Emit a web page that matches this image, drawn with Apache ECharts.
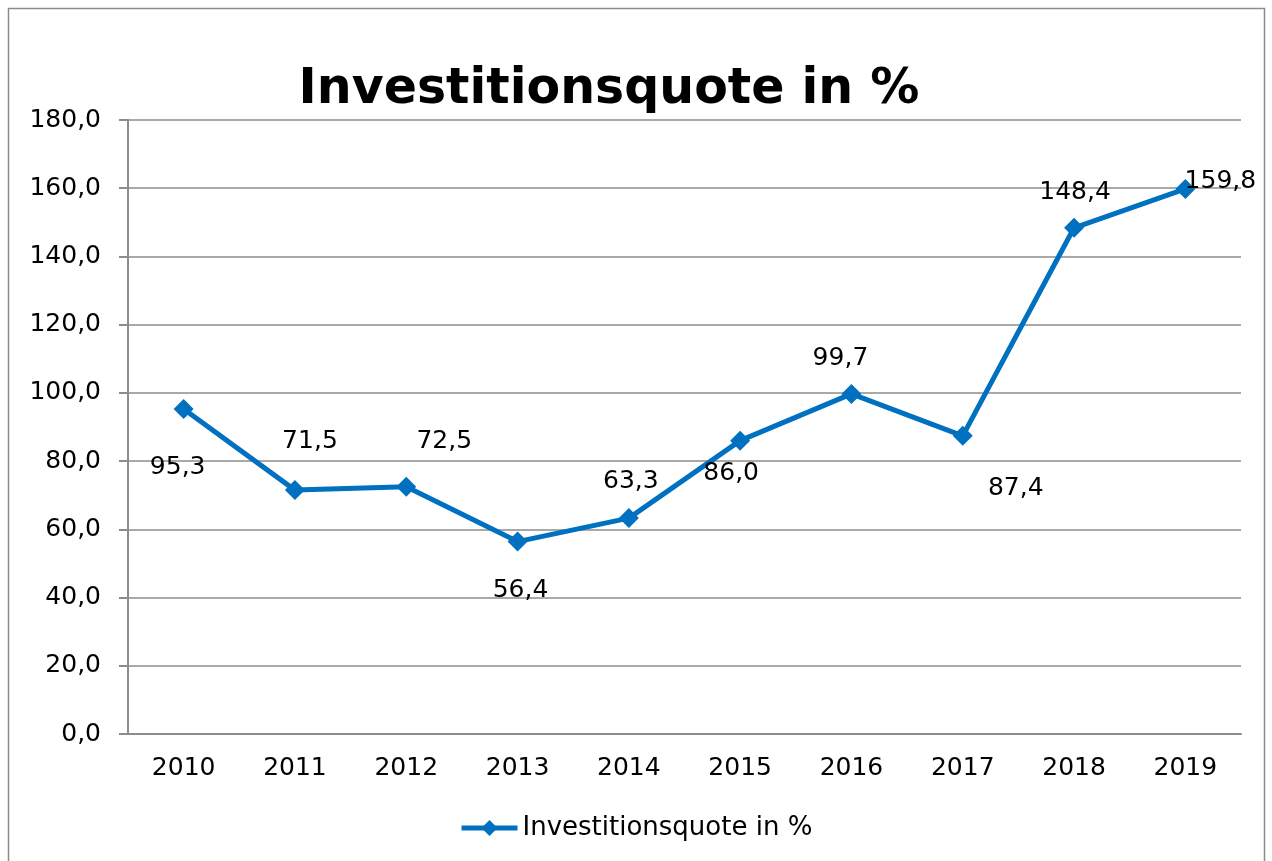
<!DOCTYPE html>
<html>
<head>
<meta charset="utf-8">
<title>Investitionsquote</title>
<script src="https://cdn.jsdelivr.net/npm/echarts@6/dist/echarts.min.js"></script>
<style>
  body { margin: 0; background: #fff; }
  #main { width: 1272px; height: 861px; }
</style>
</head>
<body>
<div id="main"></div>
<script>
var years = ['2010', '2011', '2012', '2013', '2014', '2015', '2016', '2017', '2018', '2019'];
var quote = [95.3, 71.5, 72.5, 56.4, 63.3, 86.0, 99.7, 87.4, 148.4, 159.8];
var seriesName = 'Investitionsquote in %';

// where each data label sits, relative to its point (px)
var labelShift = [[-6, 59], [15, -49], [38, -45], [3, 49], [2, -37],
                  [-9, 33], [-11, -35], [53, 53], [1, -35], [35, -7]];

var fmt = function (v) { return v.toFixed(1).replace('.', ','); };
var font = 'DejaVu Sans, Verdana, sans-serif';

var pts = quote.map(function (v, i) {
    return {
        value: v,
        label: { offset: labelShift[i] }
    };
});

var myChart = echarts.init(document.getElementById('main'));
myChart.setOption({
    animation: false,
    textStyle: { fontFamily: font },
    graphic: [{
        type: 'rect',
        shape: { x: 8.5, y: 8.5, width: 1256, height: 900 },
        style: { fill: 'none', stroke: '#8c8c8c', lineWidth: 1.5 },
        silent: true
    }],
    title: {
        text: seriesName,
        left: 604,
        textAlign: 'center',
        top: 61,
        textStyle: { fontSize: 49, fontWeight: 'bold', color: '#000', fontFamily: font }
    },
    grid: { left: 128, right: 31, top: 120, bottom: 127 },
    legend: {
        data: [seriesName],
        left: 454,
        top: 810,
        itemWidth: 56,
        itemHeight: 20,
        lineStyle: { width: 5 },
        textStyle: { fontSize: 26, color: '#000', fontFamily: font }
    },
    xAxis: {
        type: 'category',
        data: years,
        boundaryGap: true,
        axisLine: { lineStyle: { color: '#8c8c8c', width: 2 } },
        axisTick: { length: 8, lineStyle: { color: '#8c8c8c', width: 2 } },
        axisLabel: { fontSize: 25, color: '#000', margin: 22, fontFamily: font }
    },
    yAxis: {
        type: 'value',
        min: 0,
        max: 180,
        interval: 20,
        axisLine: { show: true, lineStyle: { color: '#8c8c8c', width: 2 } },
        axisTick: { show: true, length: 9, lineStyle: { color: '#8c8c8c', width: 2 } },
        splitLine: { lineStyle: { color: '#8c8c8c', width: 1.5 } },
        axisLabel: { fontSize: 25, color: '#000', margin: 27, formatter: fmt, fontFamily: font }
    },
    series: [{
        name: seriesName,
        type: 'line',
        data: pts,
        symbol: 'diamond',
        symbolSize: 20,
        itemStyle: { color: '#0070C0' },
        lineStyle: { color: '#0070C0', width: 5 },
        label: {
            show: true,
            position: 'inside',
            align: 'center',
            verticalAlign: 'middle',
            fontSize: 25,
            color: '#000',
            fontFamily: font,
            formatter: function (p) { return fmt(p.value); }
        }
    }]
});
</script>
</body>
</html>
